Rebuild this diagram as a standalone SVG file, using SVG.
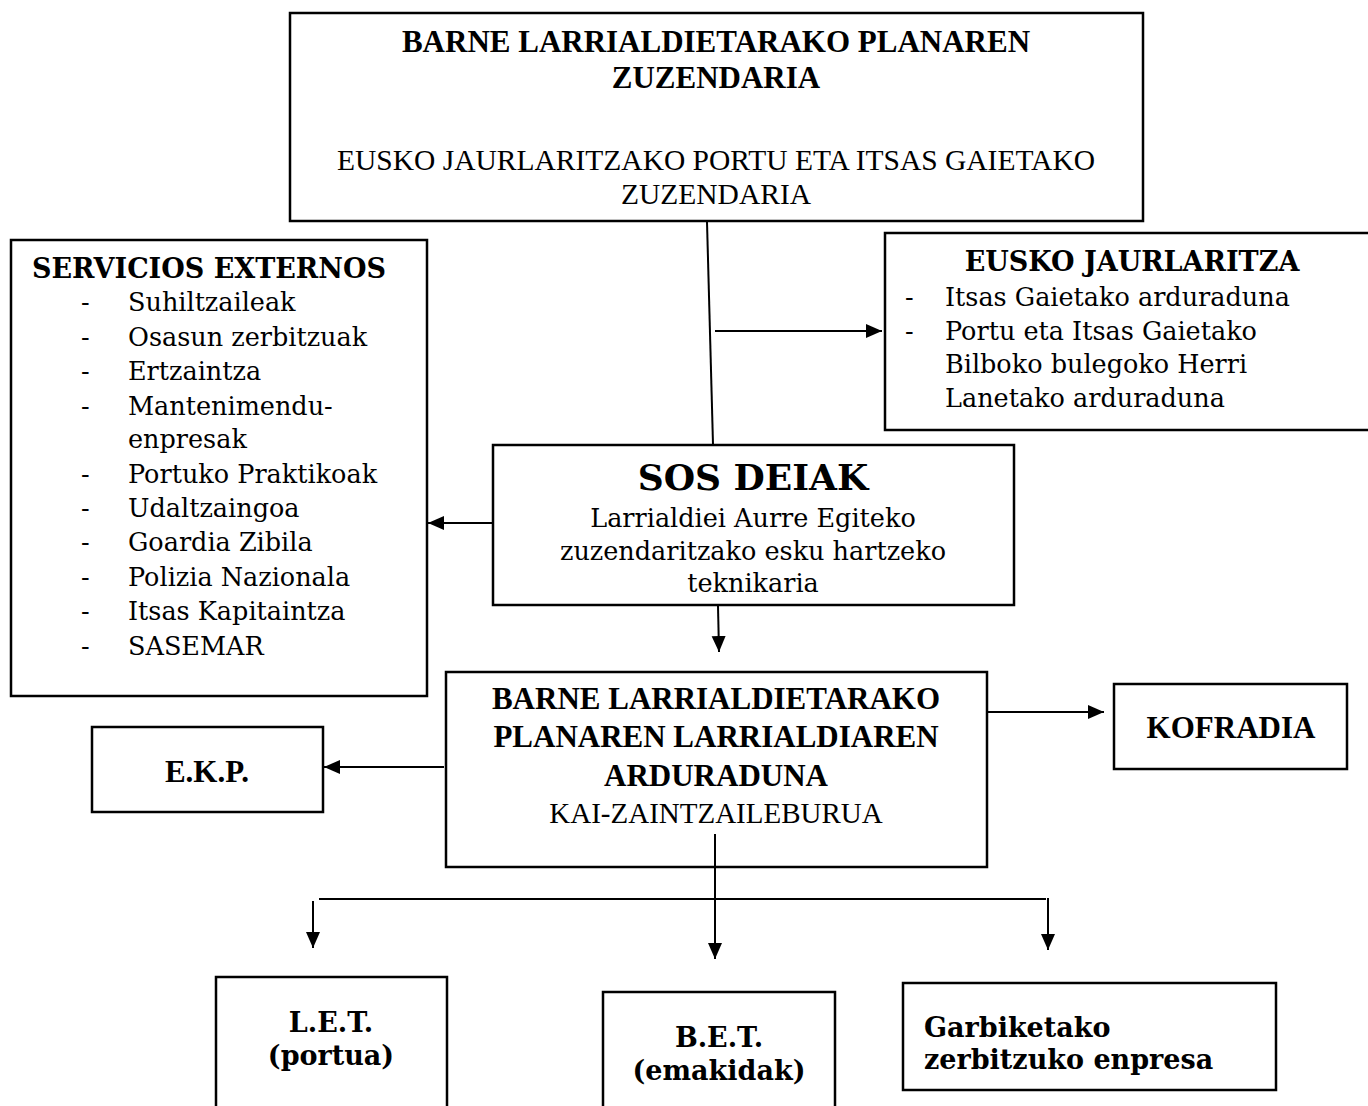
<svg xmlns="http://www.w3.org/2000/svg" width="1368" height="1106" viewBox="0 0 1368 1106">
<defs>
<style>
.box{fill:#fff;stroke:#000;stroke-width:2.5}
.ln{fill:none;stroke:#000;stroke-width:2}
.tb{font-family:"Liberation Serif","Times New Roman",serif;font-weight:bold;font-size:31px;fill:#000}
.tr{font-family:"Liberation Serif","Times New Roman",serif;font-size:29.5px;fill:#000}
.gb{font-family:"DejaVu Serif",Georgia,serif;font-weight:bold;font-size:27px;fill:#000}
.gr{font-family:"DejaVu Serif",Georgia,serif;font-size:25.5px;fill:#000}
.c{text-anchor:middle}
</style>
<marker id="ah" markerUnits="userSpaceOnUse" markerWidth="17" markerHeight="17" viewBox="0 0 17 17" refX="16" refY="8.5" orient="auto">
<path d="M0,1.5 L16,8.5 L0,15.5 Z" fill="#000"/>
</marker>
</defs>
<rect width="1368" height="1106" fill="#fff"/>

<g id="director">
<rect class="box" x="290" y="13" width="853" height="208"/>
<text class="tb c" x="716" y="52">BARNE LARRIALDIETARAKO PLANAREN</text>
<text class="tb c" x="716" y="88">ZUZENDARIA</text>
<text class="tr c" x="716" y="170">EUSKO JAURLARITZAKO PORTU ETA ITSAS GAIETAKO</text>
<text class="tr c" x="716" y="204">ZUZENDARIA</text>
</g>

<g id="servicios">
<rect class="box" x="11" y="240" width="416" height="456"/>
<text class="gb" x="32" y="278">SERVICIOS EXTERNOS</text>
<g class="gr">
<text x="81" y="311">-</text><text x="128" y="311">Suhiltzaileak</text>
<text x="81" y="346">-</text><text x="128" y="346">Osasun zerbitzuak</text>
<text x="81" y="380">-</text><text x="128" y="380">Ertzaintza</text>
<text x="81" y="415">-</text><text x="128" y="415">Mantenimendu-</text>
<text x="128" y="448">enpresak</text>
<text x="81" y="483">-</text><text x="128" y="483">Portuko Praktikoak</text>
<text x="81" y="517">-</text><text x="128" y="517">Udaltzaingoa</text>
<text x="81" y="551">-</text><text x="128" y="551">Goardia Zibila</text>
<text x="81" y="586">-</text><text x="128" y="586">Polizia Nazionala</text>
<text x="81" y="620">-</text><text x="128" y="620">Itsas Kapitaintza</text>
<text x="81" y="655">-</text><text x="128" y="655">SASEMAR</text>
</g>
</g>

<g id="eusko-jaurlaritza">
<rect class="box" x="885" y="233" width="490" height="197"/>
<text class="gb c" x="1132" y="271">EUSKO JAURLARITZA</text>
<g class="gr">
<text x="905" y="306">-</text><text x="945" y="306">Itsas Gaietako arduraduna</text>
<text x="905" y="340">-</text><text x="945" y="340">Portu eta Itsas Gaietako</text>
<text x="945" y="373">Bilboko bulegoko Herri</text>
<text x="945" y="407">Lanetako arduraduna</text>
</g>
</g>

<g id="sos-deiak">
<rect class="box" x="493" y="445" width="521" height="160"/>
<text class="gb c" x="753" y="490" style="font-size:36px">SOS DEIAK</text>
<text class="gr c" x="753" y="527">Larrialdiei Aurre Egiteko</text>
<text class="gr c" x="753" y="560">zuzendaritzako esku hartzeko</text>
<text class="gr c" x="753" y="592">teknikaria</text>
</g>

<g id="arduraduna">
<rect class="box" x="446" y="672" width="541" height="195"/>
<text class="tb c" x="716" y="709">BARNE LARRIALDIETARAKO</text>
<text class="tb c" x="716" y="747">PLANAREN LARRIALDIAREN</text>
<text class="tb c" x="716" y="786">ARDURADUNA</text>
<text class="tr c" x="716" y="823" style="font-size:29px">KAI-ZAINTZAILEBURUA</text>
</g>

<g id="ekp">
<rect class="box" x="92" y="727" width="231" height="85"/>
<text class="tb c" x="207" y="782">E.K.P.</text>
</g>

<g id="kofradia">
<rect class="box" x="1114" y="684" width="233" height="85"/>
<text class="tb c" x="1231" y="738">KOFRADIA</text>
</g>

<g id="let">
<rect class="box" x="216" y="977" width="231" height="140"/>
<text class="gb c" x="331" y="1032">L.E.T.</text>
<text class="gb c" x="331" y="1065">(portua)</text>
</g>

<g id="bet">
<rect class="box" x="603" y="992" width="232" height="130"/>
<text class="gb c" x="719" y="1047">B.E.T.</text>
<text class="gb c" x="719" y="1080">(emakidak)</text>
</g>

<g id="garbiketako">
<rect class="box" x="903" y="983" width="373" height="107"/>
<text class="gb" x="924" y="1037">Garbiketako</text>
<text class="gb" x="924" y="1069">zerbitzuko enpresa</text>
</g>

<g id="connectors">
<line class="ln" x1="707" y1="222" x2="713" y2="444"/>
<line class="ln" x1="715" y1="331" x2="882" y2="331" marker-end="url(#ah)"/>
<line class="ln" x1="492" y1="523" x2="428" y2="523" marker-end="url(#ah)"/>
<line class="ln" x1="718" y1="606" x2="719" y2="652" marker-end="url(#ah)"/>
<line class="ln" x1="988" y1="712" x2="1104" y2="712" marker-end="url(#ah)"/>
<line class="ln" x1="444" y1="767" x2="324" y2="767" marker-end="url(#ah)"/>
<line class="ln" x1="715" y1="834" x2="715" y2="959" marker-end="url(#ah)"/>
<line class="ln" x1="319" y1="899" x2="1046" y2="899"/>
<line class="ln" x1="313" y1="901" x2="313" y2="948" marker-end="url(#ah)"/>
<line class="ln" x1="1048" y1="898" x2="1048" y2="950" marker-end="url(#ah)"/>
</g>
</svg>
